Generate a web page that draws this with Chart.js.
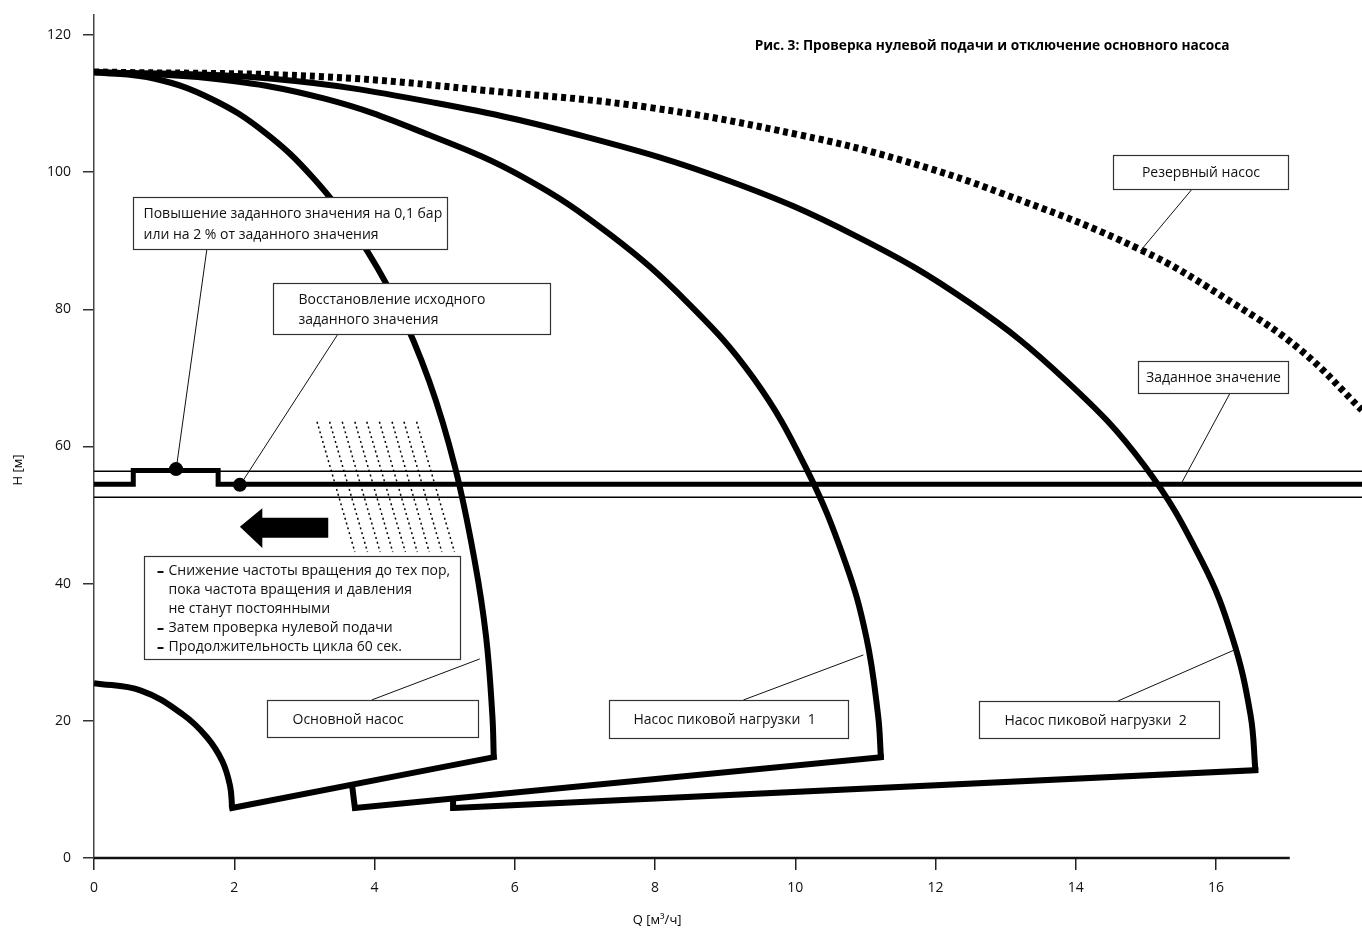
<!DOCTYPE html>
<html lang="ru">
<head>
<meta charset="utf-8">
<title>Рис. 3: Проверка нулевой подачи</title>
<script src="https://cdn.jsdelivr.net/npm/chart.js@4.4.1/dist/chart.umd.min.js"></script>
<style>
    html, body { margin: 0; padding: 0; background: #fff; }
    #wrap { width: 1362px; height: 930px; }
</style>
</head>
<body>
<div id="wrap"><canvas id="chart" width="1362" height="930"></canvas></div>
<script>
/* Q [m3/h] / H [m] values */

const xTicks = [0, 2, 4, 6, 8, 10, 12, 14, 16];
const yTicks = [0, 20, 40, 60, 80, 100, 120];
const xMax = 18.08;
const yMax = 122.9;
const xAxisEnd = 17.05;

// Main pump: full-speed curve, bottom edge, min-speed curve
const mainQ = [0, 0.87, 1.67, 2.42, 3.12, 3.75, 4.31, 4.78, 5.15, 5.43, 5.59, 5.68, 5.70];
const mainH = [114.6, 113.6, 110.7, 105.9, 99.2, 90.8, 80.9, 69.5, 56.9, 43.2, 32.3, 20.8, 14.7];
const mainEdgeQ = [5.70, 1.97];
const mainEdgeH = [14.7, 7.3];
const mainMinQ = [0, 0.67, 1.27, 1.61, 1.83, 1.94, 1.97];
const mainMinH = [25.5, 24.4, 20.9, 17.6, 14.1, 10.5, 7.3];

// Peak-load pump 1
const peak1Q = [0, 1.71, 3.29, 4.78, 6.13, 7.37, 8.47, 9.40, 10.15, 10.71, 11.01, 11.18, 11.22];
const peak1H = [114.6, 113.6, 110.7, 105.4, 99.2, 90.8, 80.9, 70.0, 56.9, 43.2, 32.3, 20.8, 14.7];
const peak1EdgeQ = [11.22, 3.72, 3.68];
const peak1EdgeH = [14.7, 7.3, 10.6];

// Peak-load pump 2
const peak2Q = [0, 2.54, 4.86, 7.03, 9.06, 10.88, 12.49, 13.86, 14.97, 15.80, 16.23, 16.49, 16.56];
const peak2H = [114.6, 113.6, 110.1, 105.1, 98.7, 90.6, 80.9, 69.6, 57.3, 43.2, 32.2, 20.9, 12.8];
const peak2EdgeQ = [16.56, 5.13, 5.12];
const peak2EdgeH = [12.8, 7.3, 8.6];

// Standby pump (dotted)
const reserveQ = [0, 3.27, 5.79, 7.93, 10.07, 11.49, 12.92, 14.92, 16.24, 17.20, 18.08];
const reserveH = [114.6, 113.9, 111.7, 109.4, 105.4, 101.8, 97.0, 88.7, 80.9, 74.1, 65.3];

// Set value with the short raise, plus the tolerance band
const setQ = [0, 0.56, 0.56, 1.77, 1.77, 18.08];
const setH = [54.5, 54.5, 56.5, 56.5, 54.5, 54.5];
const bandQ = [0, 18.08];
const bandUpperH = [56.4, 56.4];
const bandLowerH = [52.6, 52.6];

// Marked points on the set-value line
const dotQ = [1.17, 2.08];
const dotH = [56.7, 54.4];

// Arrow (speed reduction)
const arrowQ = [2.08, 2.40, 2.40, 3.34, 3.34, 2.40, 2.40, 2.08];
const arrowH = [48.3, 51.0, 49.6, 49.6, 46.7, 46.7, 45.2, 48.3];

// Dotted hatch lines (top / bottom ends)
const hatchTopQ = [3.18, 3.36, 3.54, 3.72, 3.89, 4.07, 4.25, 4.42, 4.60];
const hatchBotQ = [3.72, 3.90, 4.08, 4.26, 4.44, 4.61, 4.78, 4.96, 5.14];
const hatchTopH = 63.6;
const hatchBotH = 44.6;

const titleText = 'Рис. 3: Проверка нулевой подачи и отключение основного насоса';

// Callout boxes: box = [q1, h1, q2, h2], leader = [q1, h1, q2, h2]
const notes = [
    { box: [0.56, 96.4, 5.03, 88.8], pad: 10, lh: 21,
      lines: ['Повышение заданного значения на 0,1 бар', 'или на 2 % от заданного значения'],
      leader: [1.61, 88.8, 1.18, 57.3] },
    { box: [2.55, 83.84, 6.50, 76.41], pad: 25, lh: 20,
      lines: ['Восстановление исходного', 'заданного значения'],
      leader: [3.48, 76.41, 2.13, 55.1] },
    { box: [0.71, 44.04, 5.22, 29.02], pad: 24, lh: 19,
      bullets: [true, false, false, true, true],
      lines: ['Снижение частоты вращения до тех пор,', 'пока частота вращения и давления',
              'не станут постоянными', 'Затем проверка нулевой подачи', 'Продолжительность цикла 60 сек.'] },
    { box: [2.47, 23.04, 5.48, 17.64], pad: 25, lh: 20,
      lines: ['Основной насос'], leader: [3.96, 23.04, 5.50, 29.02] },
    { box: [7.34, 23.04, 10.75, 17.50], pad: 24, lh: 20,
      lines: ['Насос пиковой нагрузки  1'], leader: [9.26, 23.04, 10.97, 29.6] },
    { box: [12.62, 22.89, 16.04, 17.50], pad: 25, lh: 20,
      lines: ['Насос пиковой нагрузки  2'], leader: [14.60, 22.89, 16.26, 30.33] },
    { box: [14.53, 102.51, 17.03, 97.55], center: true, lh: 20,
      lines: ['Резервный насос'], leader: [15.66, 97.55, 14.92, 88.51] },
    { box: [14.89, 72.47, 17.03, 67.80], center: true, lh: 20,
      lines: ['Заданное значение'], leader: [16.20, 67.80, 15.50, 54.53] }
];

const FONT = '"Open Sans", "DejaVu Sans", sans-serif';

function pts(qs, hs) {
    return qs.map((q, i) => ({ x: q, y: hs[i] }));
}

// smooth pump curve
function curve(label, qs, hs, extra) {
    return Object.assign({
        label: label,
        data: pts(qs, hs),
        showLine: true,
        borderColor: '#000',
        backgroundColor: '#000',
        borderWidth: 6,
        borderCapStyle: 'butt',
        borderJoinStyle: 'miter',
        tension: 0.4,
        pointRadius: 0,
        fill: false
    }, extra || {});
}

// straight polyline
function poly(label, qs, hs, extra) {
    return curve(label, qs, hs, Object.assign({ tension: 0 }, extra || {}));
}

const datasets = [
    curve('Основной насос', mainQ, mainH),
    poly('main edge', mainEdgeQ, mainEdgeH, { borderCapStyle: 'square' }),
    curve('main min', mainMinQ, mainMinH),
    curve('Насос пиковой нагрузки 1', peak1Q, peak1H),
    poly('peak1 edge', peak1EdgeQ, peak1EdgeH, { borderCapStyle: 'square' }),
    curve('Насос пиковой нагрузки 2', peak2Q, peak2H),
    poly('peak2 edge', peak2EdgeQ, peak2EdgeH, { borderCapStyle: 'square' }),
    curve('Резервный насос', reserveQ, reserveH, { borderWidth: 7, borderDash: [5, 4] }),
    poly('Заданное значение', setQ, setH, { borderWidth: 5 }),
    poly('band+', bandQ, bandUpperH, { borderWidth: 1.5 }),
    poly('band-', bandQ, bandLowerH, { borderWidth: 1.5 }),
    poly('arrow', arrowQ, arrowH, { borderWidth: 0, fill: 'shape' }),
    {
        label: 'points',
        data: pts(dotQ, dotH),
        showLine: false,
        pointRadius: 7,
        pointBackgroundColor: '#000',
        pointBorderWidth: 0
    }
];

hatchTopQ.forEach((q, i) => {
    datasets.push(poly('hatch' + i, [q, hatchBotQ[i]], [hatchTopH, hatchBotH],
        { borderWidth: 1.5, borderDash: [2, 3] }));
});

/* ===== Callouts, title, axis titles, x axis line ===== */
const overlay = {
    id: 'overlay',
    afterDatasetsDraw(chart) {
        const { ctx, scales: { x, y } } = chart;
        const px = v => x.getPixelForValue(v);
        const py = v => y.getPixelForValue(v);
        ctx.save();

        // x axis line (stops before the right edge)
        ctx.strokeStyle = '#111';
        ctx.lineWidth = 2.5;
        ctx.beginPath();
        ctx.moveTo(px(0), py(0));
        ctx.lineTo(px(xAxisEnd), py(0));
        ctx.stroke();

        // leader lines
        ctx.lineWidth = 1;
        notes.forEach(n => {
            if (!n.leader) return;
            ctx.beginPath();
            ctx.moveTo(px(n.leader[0]), py(n.leader[1]));
            ctx.lineTo(px(n.leader[2]), py(n.leader[3]));
            ctx.stroke();
        });

        // boxes
        ctx.font = '14px ' + FONT;
        ctx.textBaseline = 'middle';
        notes.forEach(n => {
            const x1 = Math.round(px(n.box[0])) + 0.5;
            const y1 = Math.round(py(n.box[1])) + 0.5;
            const x2 = Math.round(px(n.box[2])) + 0.5;
            const y2 = Math.round(py(n.box[3])) + 0.5;
            ctx.fillStyle = '#fff';
            ctx.fillRect(x1, y1, x2 - x1, y2 - y1);
            ctx.strokeStyle = '#333';
            ctx.lineWidth = 1.2;
            ctx.strokeRect(x1, y1, x2 - x1, y2 - y1);

            const cy = (y1 + y2) / 2 + 1;
            const top = cy - (n.lines.length - 1) * n.lh / 2;
            ctx.fillStyle = '#111';
            n.lines.forEach((t, i) => {
                const ty = top + i * n.lh;
                if (n.center) {
                    ctx.textAlign = 'center';
                    ctx.fillText(t, (x1 + x2) / 2, ty);
                } else {
                    ctx.textAlign = 'left';
                    ctx.fillText(t, x1 + n.pad, ty);
                }
                if (n.bullets && n.bullets[i]) {
                    ctx.fillRect(x1 + 13, ty, 6, 2);
                }
            });
        });

        // title
        ctx.fillStyle = '#000';
        ctx.font = 'bold 13.7px ' + FONT;
        ctx.textAlign = 'left';
        ctx.fillText(titleText, px(9.42), py(118.4));

        // axis titles
        ctx.font = '13px ' + FONT;
        ctx.textAlign = 'center';
        ctx.fillText('Q [м³/ч]', px(8.03), 920);
        ctx.translate(18, 470);
        ctx.rotate(-Math.PI / 2);
        ctx.fillText('H [м]', 0, 0);

        ctx.restore();
    }
};

new Chart(document.getElementById('chart'), {
    type: 'scatter',
    data: { datasets: datasets },
    options: {
        responsive: false,
        animation: false,
        devicePixelRatio: 1,
        events: [],
        layout: { autoPadding: false, padding: { top: 15, right: 0, left: 0, bottom: 0 } },
        plugins: {
            legend: { display: false },
            tooltip: { enabled: false }
        },
        scales: {
            x: {
                type: 'linear',
                min: 0,
                max: xMax,
                afterBuildTicks: s => { s.ticks = xTicks.map(v => ({ value: v })); },
                afterFit: s => {
                    s.height = 72;
                    s.paddingLeft = 0;
                    s.paddingRight = 0;
                },
                ticks: {
                    padding: 10,
                    color: '#111',
                    font: { family: FONT, size: 14 },
                    maxRotation: 0
                },
                grid: {
                    drawOnChartArea: false,
                    drawTicks: true,
                    tickLength: 12,
                    color: '#222',
                    lineWidth: 1.5
                },
                border: { display: false }
            },
            y: {
                type: 'linear',
                min: 0,
                max: yMax,
                afterBuildTicks: s => { s.ticks = yTicks.map(v => ({ value: v })); },
                afterFit: s => {
                    s.width = 94;
                    s.paddingTop = 0;
                    s.paddingBottom = 0;
                },
                ticks: {
                    padding: 12,
                    color: '#111',
                    font: { family: FONT, size: 14 }
                },
                grid: {
                    drawOnChartArea: false,
                    drawTicks: true,
                    tickLength: 11,
                    color: '#333',
                    lineWidth: 1.5
                },
                border: { display: true, color: '#444', width: 1.5 }
            }
        }
    },
    plugins: [overlay]
});
</script>
</body>
</html>
